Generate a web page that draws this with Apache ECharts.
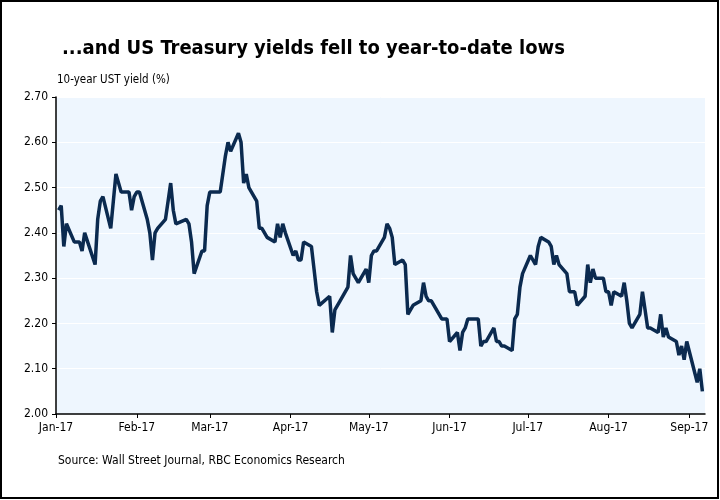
<!DOCTYPE html>
<html>
<head>
<meta charset="utf-8">
<script src="https://cdn.jsdelivr.net/npm/echarts@6/dist/echarts.min.js"></script>
<style>
  html, body { margin: 0; padding: 0; background: #fff; }
  #chart { width: 720px; height: 500px; }
</style>
</head>
<body>
<div id="chart"></div>
<script>
// 10-year UST yield, 2017 trading days (MM-DD)
const dates = [
  '01-03','01-04','01-05','01-06','01-09','01-10','01-11','01-12','01-13','01-17','01-18','01-19','01-20','01-23','01-24','01-25','01-26','01-27','01-30','01-31',
  '02-01','02-02','02-03','02-06','02-07','02-08','02-09','02-10','02-13','02-14','02-15','02-16','02-17','02-21','02-22','02-23','02-24','02-27','02-28',
  '03-01','03-02','03-03','03-06','03-07','03-08','03-09','03-10','03-13','03-14','03-15','03-16','03-17','03-20','03-21','03-22','03-23','03-24','03-27','03-28','03-29','03-30','03-31',
  '04-03','04-04','04-05','04-06','04-07','04-10','04-11','04-12','04-13','04-17','04-18','04-19','04-20','04-21','04-24','04-25','04-26','04-27','04-28',
  '05-01','05-02','05-03','05-04','05-05','05-08','05-09','05-10','05-11','05-12','05-15','05-16','05-17','05-18','05-19','05-22','05-23','05-24','05-25','05-26','05-30','05-31',
  '06-01','06-02','06-05','06-06','06-07','06-08','06-09','06-12','06-13','06-14','06-15','06-16','06-19','06-20','06-21','06-22','06-23','06-26','06-27','06-28','06-29','06-30',
  '07-03','07-05','07-06','07-07','07-10','07-11','07-12','07-13','07-14','07-17','07-18','07-19','07-20','07-21','07-24','07-25','07-26','07-27','07-28','07-31',
  '08-01','08-02','08-03','08-04','08-07','08-08','08-09','08-10','08-11','08-14','08-15','08-16','08-17','08-18','08-21','08-22','08-23','08-24','08-25','08-28','08-29','08-30','08-31',
  '09-01','09-05','09-06','09-07'
];
const yields = [
  2.45,2.46,2.37,2.42,2.38,2.38,2.38,2.36,2.40,2.33,2.43,2.47,2.48,2.41,2.47,2.53,2.51,2.49,2.49,2.45,
  2.48,2.49,2.49,2.43,2.40,2.34,2.40,2.41,2.43,2.47,2.51,2.45,2.42,2.43,2.42,2.38,2.31,2.36,2.36,
  2.46,2.49,2.49,2.49,2.53,2.57,2.60,2.58,2.62,2.60,2.51,2.53,2.50,2.47,2.41,2.41,2.40,2.39,2.38,2.42,2.39,2.42,2.40,
  2.35,2.36,2.34,2.34,2.38,2.37,2.32,2.27,2.24,2.26,2.18,2.23,2.24,2.25,2.28,2.35,2.31,2.30,2.29,
  2.32,2.29,2.35,2.36,2.36,2.39,2.42,2.41,2.39,2.33,2.34,2.33,2.22,2.23,2.24,2.25,2.29,2.26,2.25,2.25,2.21,2.21,
  2.21,2.16,2.18,2.14,2.18,2.19,2.21,2.21,2.21,2.15,2.16,2.16,2.19,2.16,2.16,2.15,2.15,2.14,2.21,2.22,2.28,2.31,
  2.35,2.33,2.37,2.39,2.38,2.37,2.33,2.35,2.33,2.31,2.27,2.27,2.27,2.24,2.26,2.33,2.29,2.32,2.30,2.30,
  2.27,2.27,2.24,2.27,2.26,2.29,2.25,2.20,2.19,2.22,2.27,2.23,2.19,2.19,2.18,2.22,2.17,2.19,2.17,2.16,2.13,2.15,2.12,
  2.16,2.07,2.10,2.05
];
// month tick dates and labels
const tickDates = ['01-02','02-02','03-02','04-02','05-02','06-02','07-02','08-02','09-02'];
const tickLabels = ['Jan-17','Feb-17','Mar-17','Apr-17','May-17','Jun-17','Jul-17','Aug-17','Sep-17'];

// day number in 2017
const day = d => Math.round((Date.UTC(2017, +d.slice(0, 2) - 1, +d.slice(3)) - Date.UTC(2017, 0, 1)) / 86400000);
const tickDays = tickDates.map(day);

const font = '"DejaVu Sans Condensed", "DejaVu Sans", sans-serif';
const chart = echarts.init(document.getElementById('chart'));
chart.setOption({
  animation: false,
  backgroundColor: '#fff',
  textStyle: { fontFamily: font },
  graphic: [{
    type: 'rect',
    shape: { x: 1, y: 1, width: 717, height: 497 },
    style: { fill: 'none', stroke: '#000', lineWidth: 2 },
    silent: true
  }, {
    type: 'text', left: 62, top: 39,
    style: { text: '...and US Treasury yields fell to year-to-date lows', font: 'bold 20px ' + font, fill: '#000' }
  }, {
    type: 'text', left: 57, top: 74,
    style: { text: '10-year UST yield (%)', font: '11.5px ' + font, fill: '#000' }
  }, {
    type: 'text', left: 58, top: 455,
    style: { text: 'Source: Wall Street Journal, RBC Economics Research', font: '12px ' + font, fill: '#000' }
  }],
  grid: {
    left: 56, right: 15, top: 97, bottom: 86,
    show: true, backgroundColor: '#EEF6FE', borderWidth: 0
  },
  xAxis: {
    type: 'value',
    min: day('01-02'),
    max: day('09-08'),
    axisLine: { lineStyle: { color: '#000', width: 1.5 } },
    axisTick: { show: true, length: 4, lineStyle: { color: '#000' }, customValues: tickDays },
    axisLabel: {
      customValues: tickDays,
      color: '#000', fontSize: 12, margin: 8,
      formatter: v => tickLabels[tickDays.indexOf(v)] || ''
    },
    splitLine: { show: false }
  },
  yAxis: {
    type: 'value',
    min: 2.0, max: 2.7, interval: 0.1,
    axisLine: { show: true, lineStyle: { color: '#000', width: 1.5 } },
    axisTick: { show: true, length: 4, lineStyle: { color: '#000' } },
    axisLabel: { color: '#000', fontSize: 12, margin: 8, formatter: v => v.toFixed(2) },
    splitLine: { show: true, lineStyle: { color: '#fff', width: 1 } }
  },
  series: [{
    type: 'line',
    data: dates.map((d, i) => [day(d), yields[i]]),
    showSymbol: false,
    lineStyle: { color: '#0B2A4F', width: 3.5 },
    z: 3
  }]
});
</script>
</body>
</html>
